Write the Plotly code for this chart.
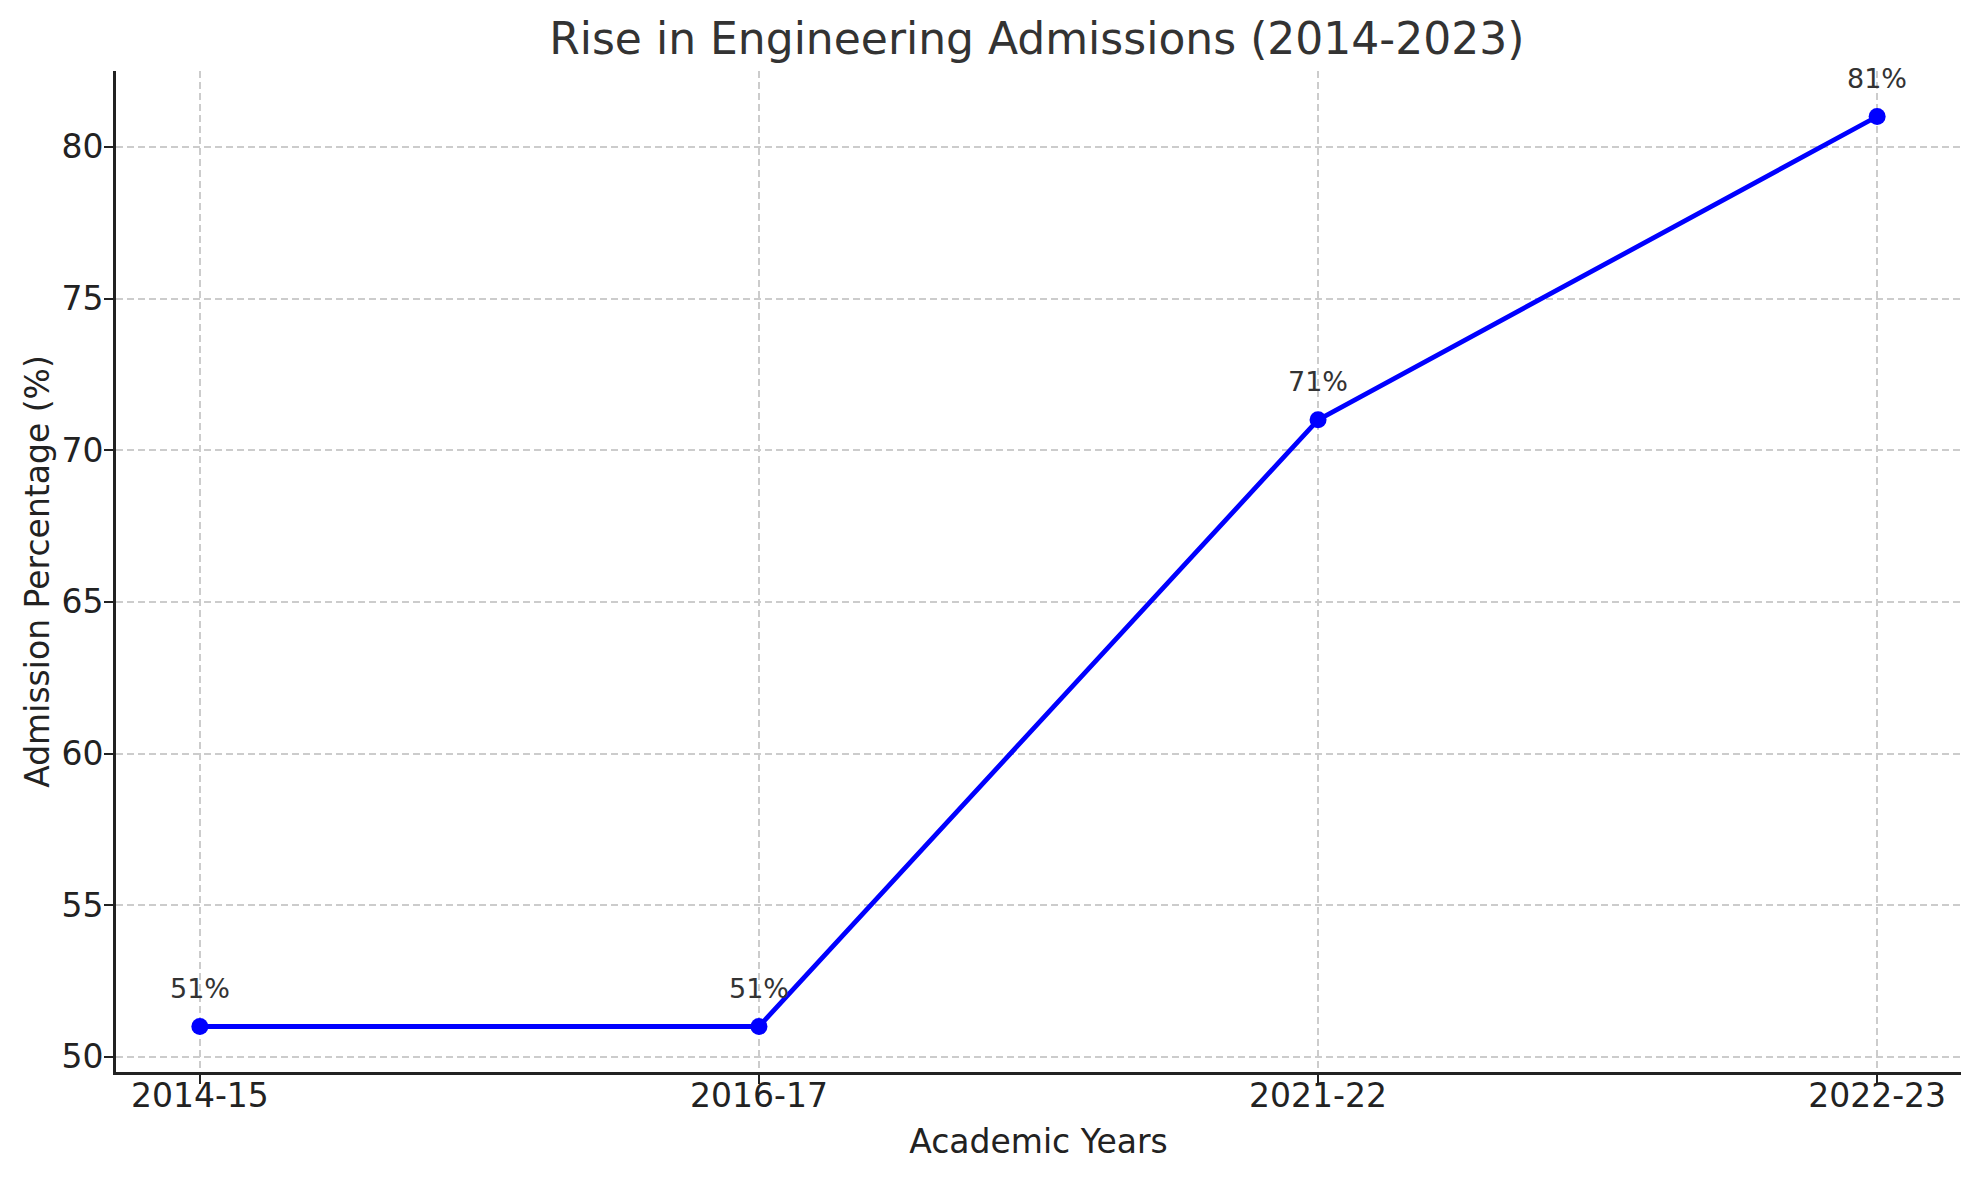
import plotly.graph_objects as go

years = ["2014-15", "2016-17", "2021-22", "2022-23"]
admission_pct = [51, 51, 71, 81]
labels = [f"{v}%" for v in admission_pct]
y_ticks = [50, 55, 60, 65, 70, 75, 80]

FONT = "DejaVu Sans"

fig = go.Figure()
fig.add_trace(go.Scatter(
    x=list(range(len(years))), y=admission_pct, mode="lines+markers",
    line=dict(color="#0000ff", width=4.8),
    marker=dict(color="#0000ff", size=17),
    showlegend=False,
))

for i, (v, t) in enumerate(zip(admission_pct, labels)):
    fig.add_annotation(x=i, y=v, text=t, showarrow=False, yanchor="bottom",
                       yshift=21, font=dict(family=FONT, size=27, color="#333333"))

grid = dict(showgrid=True, gridcolor="#cccccc", gridwidth=1.8, griddash="7px,4px")

fig.update_layout(
    width=1980, height=1180,
    paper_bgcolor="white", plot_bgcolor="white",
    margin=dict(l=116, r=19, t=71, b=108),
    font=dict(family=FONT, color="#222222"),
    title=dict(text="Rise in Engineering Admissions (2014-2023)", x=0.5236, xanchor="center",
               y=1 - 39 / 1180, yanchor="middle",
               font=dict(family=FONT, size=44, color="#333333")),
    xaxis=dict(
        range=[-0.15, 3.15], tickmode="array", tickvals=list(range(len(years))), ticktext=years,
        showline=True, linecolor="#222222", linewidth=2.7, mirror=False,
        ticks="outside", ticklen=9, tickwidth=2, tickcolor="#222222",
        ticklabelstandoff=-16,
        tickfont=dict(family=FONT, size=33, color="#222222"),
        title=dict(text="Academic Years", standoff=16, font=dict(family=FONT, size=33, color="#222222")),
        zeroline=False, **grid,
    ),
    yaxis=dict(
        range=[49.5, 82.5], tickmode="array", tickvals=y_ticks,
        showline=True, linecolor="#222222", linewidth=2.7, mirror=False,
        ticks="outside", ticklen=9, tickwidth=2, tickcolor="#222222",
        ticklabelstandoff=-6,
        tickfont=dict(family=FONT, size=33, color="#222222"),
        title=dict(text="Admission Percentage (%)", standoff=2, font=dict(family=FONT, size=33, color="#222222")),
        zeroline=False, **grid,
    ),
)

fig.write_html("out.html")
